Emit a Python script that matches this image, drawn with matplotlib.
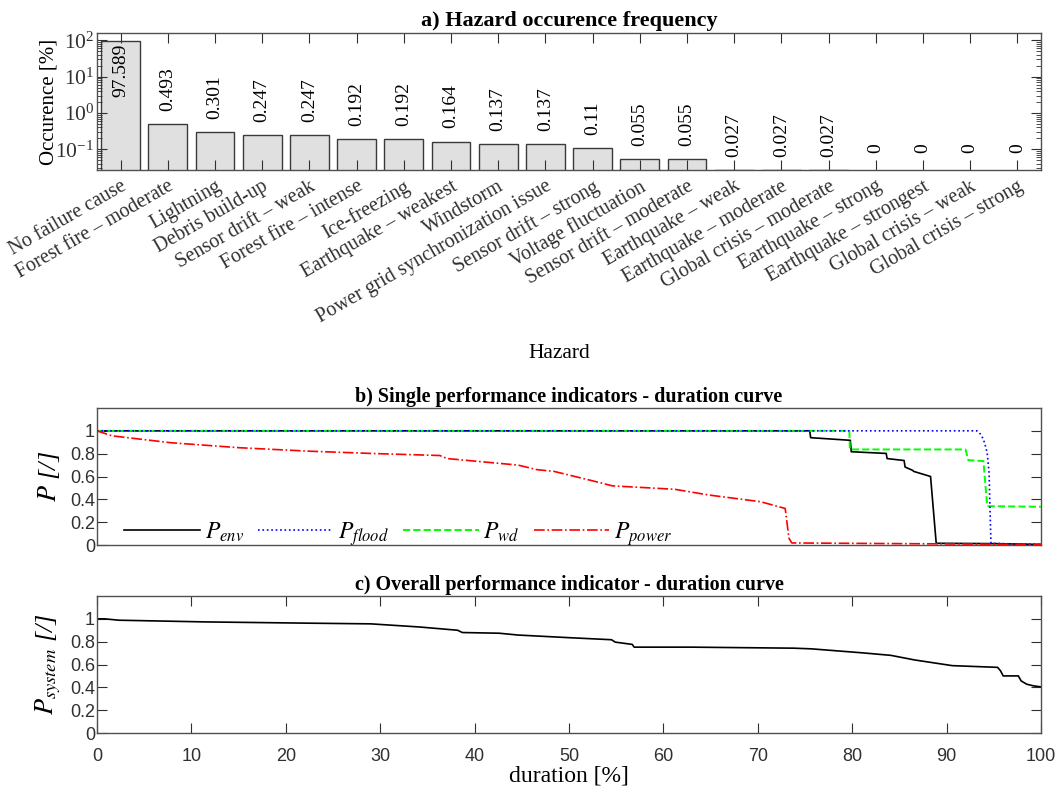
"""Hazard occurrence frequency and performance-indicator duration curves."""

import matplotlib
matplotlib.use("Agg")
import matplotlib.pyplot as plt
from matplotlib.ticker import LogLocator, NullFormatter

# --- data ---------------------------------------------------------------
hazards = [
	"No failure cause", "Forest fire \u2013 moderate", "Lightning", "Debris build-up",
	"Sensor drift \u2013 weak", "Forest fire \u2013 intense", "Ice-freezing",
	"Earthquake \u2013 weakest", "Windstorm", "Power grid synchronization issue",
	"Sensor drift \u2013 strong", "Voltage fluctuation", "Sensor drift \u2013 moderate",
	"Earthquake \u2013 weak", "Earthquake \u2013 moderate", "Global crisis \u2013 moderate",
	"Earthquake \u2013 strong", "Earthquake \u2013 strongest", "Global crisis \u2013 weak",
	"Global crisis \u2013 strong",
]
occurrence = [97.589, 0.493, 0.301, 0.247, 0.247, 0.192, 0.192, 0.164, 0.137, 0.137,
	0.11, 0.055, 0.055, 0.027, 0.027, 0.027, 0, 0, 0, 0]

env_x = [0, 75.5, 75.6, 79.8, 79.9, 83.6, 83.7, 85.5, 85.6, 86.4, 86.5, 88.3, 88.9, 95, 100]
env_y = [1, 1, 0.94, 0.917, 0.817, 0.802, 0.757, 0.74, 0.683, 0.654, 0.645, 0.60, 0.015, 0.012, 0.005]

flood_x = [0, 93.2, 93.6, 93.9, 94.1, 94.3, 94.5, 94.6, 94.7, 97, 100]
flood_y = [1, 1, 0.97, 0.926, 0.87, 0.808, 0.63, 0.305, 0.015, 0.01, 0.005]

wd_x = [0, 79.7, 79.75, 92.0, 92.3, 93.9, 94.3, 100]
wd_y = [1, 1, 0.837, 0.837, 0.743, 0.735, 0.34, 0.335]

power_x = [0, 1.6, 7.8, 15.1, 22.4, 29.7, 36.3, 37.1, 44.6, 46.6, 48.4, 52.8, 54.6, 61.2,
	64.8, 70.3, 72.9, 73.3, 73.6, 85, 100]
power_y = [1, 0.956, 0.896, 0.852, 0.822, 0.80, 0.784, 0.757, 0.70, 0.66, 0.645, 0.556,
	0.518, 0.488, 0.438, 0.379, 0.32, 0.06, 0.018, 0.012, 0.005]

system_x = [0, 0.8, 2.3, 11.5, 22.4, 29.0, 34.1, 38.2, 38.7, 42.6, 44.6, 50, 54.5, 54.9,
	56.7, 56.9, 62.9, 73.8, 75.7, 81.1, 84.1, 86.6, 90.6, 95.4, 95.7, 96.0, 97.6, 97.9,
	98.5, 99.2, 100]
system_y = [1.0, 1.0, 0.988, 0.973, 0.962, 0.956, 0.929, 0.90, 0.88, 0.874, 0.858, 0.835,
	0.817, 0.796, 0.776, 0.752, 0.752, 0.743, 0.737, 0.702, 0.68, 0.64, 0.59, 0.575, 0.546,
	0.50, 0.50, 0.456, 0.427, 0.413, 0.404]

duration_ticks = list(range(0, 101, 10))
p_ticks = [0, 0.2, 0.4, 0.6, 0.8, 1]

# --- style --------------------------------------------------------------
plt.rcParams["font.family"] = "Liberation Serif"
plt.rcParams["mathtext.fontset"] = "stix"
AX_COLOR = "#303030"
SANS = "Liberation Sans"


def style_frame(ax):
	for sp in ax.spines.values():
		sp.set_color("#505050")
		sp.set_linewidth(1.0)
	ax.tick_params(which="both", direction="in", color=AX_COLOR, labelcolor=AX_COLOR)
	ax.tick_params(which="major", length=7)
	ax.tick_params(which="minor", length=3.5)


fig = plt.figure(figsize=(10.59, 7.93), dpi=100)
left, width = 97 / 1059, 944 / 1059
ax_a = fig.add_axes([left, 1 - 170 / 793, width, 137 / 793])
ax_b = fig.add_axes([left, 1 - 545 / 793, width, 137 / 793])
ax_c = fig.add_axes([left, 1 - 733 / 793, width, 137 / 793])

# --- a) hazard bars -----------------------------------------------------
pos = list(range(1, len(hazards) + 1))
ax_a.bar(pos, occurrence, width=0.82, color="#e0e0e0", edgecolor="#3a3a3a", linewidth=1.0)
ax_a.set_yscale("log")
ax_a.set_ylim(0.027, 160)
ax_a.set_xlim(0.5, len(hazards) + 0.5)
ax_a.set_xticks(pos)
ax_a.set_xticklabels(hazards, fontsize=14.5)
for lab in ax_a.get_xticklabels():
	lab.set_rotation(30)
	lab.set_ha("right")
	lab.set_va("top")
	lab.set_rotation_mode("anchor")
ax_a.yaxis.set_major_locator(LogLocator(base=10, numticks=10))
ax_a.yaxis.set_minor_locator(LogLocator(base=10, subs=range(2, 10), numticks=20))
ax_a.yaxis.set_minor_formatter(NullFormatter())
style_frame(ax_a)
ax_a.tick_params(axis="x", which="both", top=True, pad=5)
ax_a.tick_params(axis="y", which="both", right=True, labelsize=15.5, pad=2)

for i, (p, v) in enumerate(zip(pos, occurrence)):
	txt = f"{v:g}"
	if i == 0:
		ax_a.annotate(txt, (p, v), xytext=(0, -2), textcoords="offset points",
			rotation=90, ha="center", va="top", fontsize=14)
	elif v > 0:
		ax_a.annotate(txt, (p, v), xytext=(0, 9.5), textcoords="offset points",
			rotation=90, ha="center", va="bottom", fontsize=14)
	else:
		ax_a.text(p, 0.078, txt, rotation=90, ha="center", va="bottom", fontsize=14)

ax_a.set_ylabel("Occurence [%]", fontsize=15)
ax_a.yaxis.set_label_coords(-0.041, 0.5)
ax_a.set_xlabel("Hazard", fontsize=15.5)
ax_a.xaxis.set_label_coords(0.49, -1.27)
ax_a.set_title("a) Hazard occurence frequency", fontsize=16, fontweight="bold", pad=5)

# --- b) single indicators -----------------------------------------------
ax_b.plot(env_x, env_y, color="black", lw=1.2, label=r"$P_{env}$", zorder=3)
ax_b.plot(flood_x, flood_y, color="#0000ff", lw=1.2, ls=":", label=r"$P_{flood}$", zorder=5)
ax_b.plot(wd_x, wd_y, color="#00ff00", lw=1.4, ls="--", label=r"$P_{wd}$", zorder=4)
ax_b.plot(power_x, power_y, color="#ff0000", lw=1.2, ls="-.", label=r"$P_{power}$", zorder=6)
ax_b.set_xlim(0, 100)
ax_b.set_ylim(0, 1.2)
ax_b.set_xticks([])
ax_b.set_yticks(p_ticks)
ax_b.set_yticklabels([f"{t:g}" for t in p_ticks])
style_frame(ax_b)
ax_b.tick_params(axis="y", right=True, labelsize=13, pad=1.5, labelfontfamily=SANS)
ax_b.set_ylabel(r"$P$ [/]", fontsize=19, fontstyle="italic")
ax_b.yaxis.set_label_coords(-0.037, 0.5)
ax_b.set_title("b) Single performance indicators - duration curve", fontsize=14.5,
	fontweight="bold", pad=4)
ax_b.legend(loc="center left", bbox_to_anchor=(0.029, 0.08), ncol=4, frameon=False,
	fontsize=17, handlelength=3.2, handletextpad=0.2, columnspacing=0.6,
	borderpad=0, borderaxespad=0)

# --- c) overall indicator -----------------------------------------------
ax_c.plot(system_x, system_y, color="black", lw=1.2)
ax_c.set_xlim(0, 100)
ax_c.set_ylim(0, 1.2)
ax_c.set_xticks(duration_ticks)
ax_c.set_yticks(p_ticks)
ax_c.set_yticklabels([f"{t:g}" for t in p_ticks])
style_frame(ax_c)
ax_c.tick_params(axis="both", top=True, right=True, labelsize=13, pad=1.5,
	labelfontfamily=SANS)
ax_c.tick_params(axis="x", pad=11)
ax_c.set_ylabel(r"$P_{system}$ [/]", fontsize=19, fontstyle="italic")
ax_c.yaxis.set_label_coords(-0.036, 0.5)
ax_c.set_xlabel("duration [%]", fontsize=17, labelpad=0)
ax_c.set_title("c) Overall performance indicator - duration curve", fontsize=14.5,
	fontweight="bold", pad=4)

fig.savefig("out.png", dpi=100)
